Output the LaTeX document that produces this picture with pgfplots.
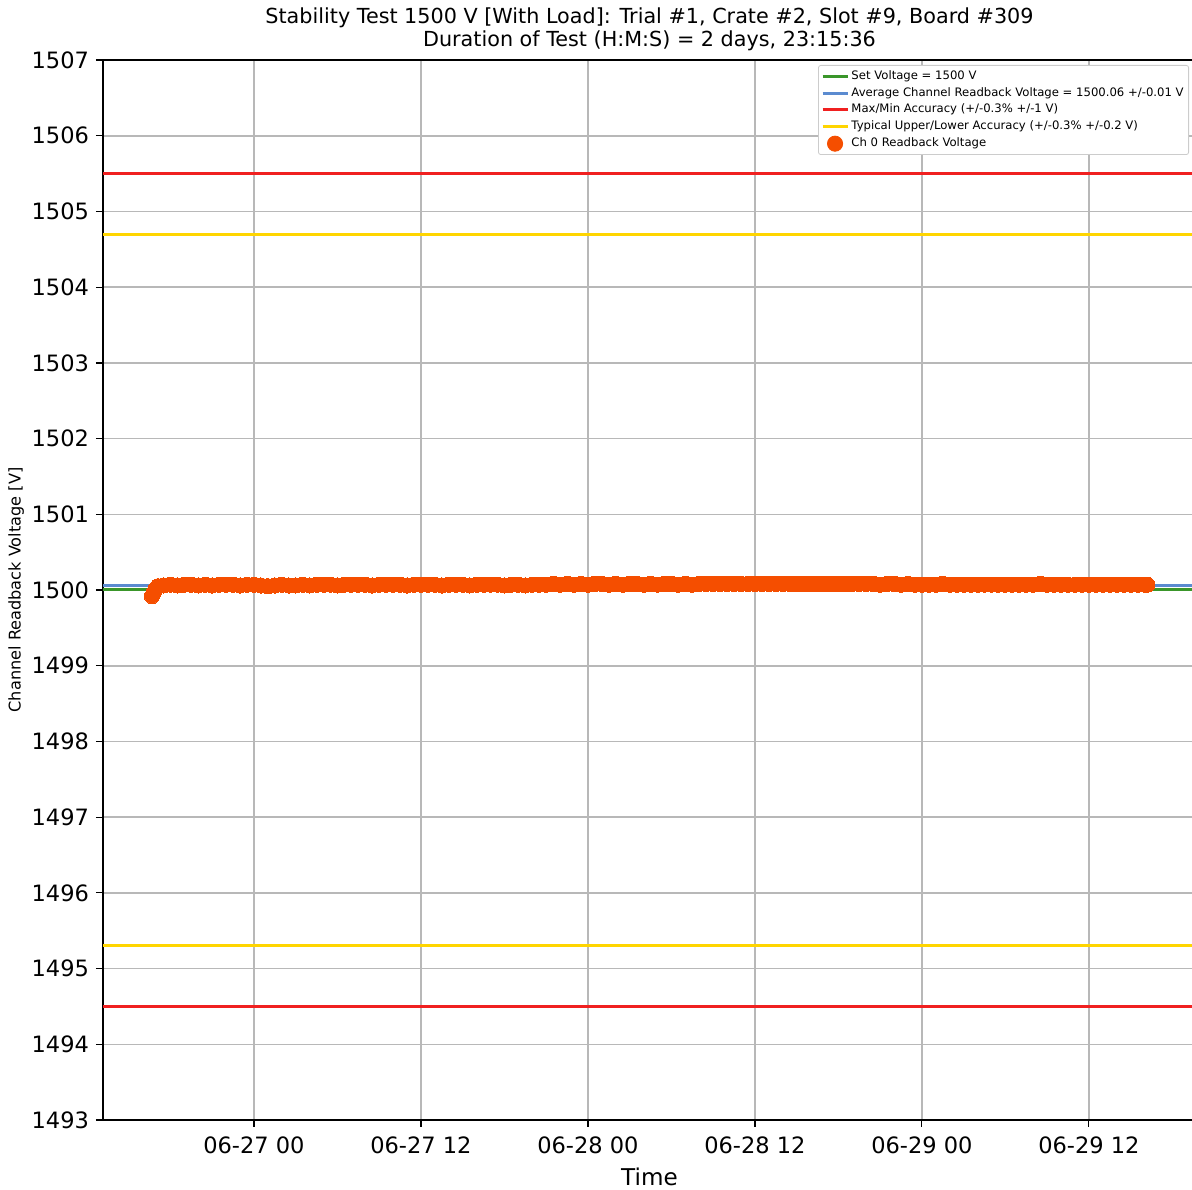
\documentclass[border=0pt]{standalone}
\usepackage{fontspec}
\setmainfont{DejaVu Sans}
\usepackage{pgfplots}
\pgfplotsset{compat=1.18}
\definecolor{cgreen}{HTML}{3A962A}
\definecolor{cblue}{HTML}{5B8BD0}
\definecolor{cred}{HTML}{F02020}
\definecolor{cyellow}{HTML}{FFD500}
\definecolor{corange}{HTML}{F54E00}
\definecolor{cgrid}{HTML}{B8B8B8}
\pgfplotsset{
  mylinelegend/.style={legend image code/.code={\draw[##1] (0bp,0bp) -- (12.5bp,0bp);}},
  mydotlegend/.style={legend image code/.code={\fill[corange] (6.25bp,0bp) circle (3.8bp);}},
}
\begin{document}
\begin{tikzpicture}
\useasboundingbox (0,0) rectangle (596bp,595bp);
\begin{axis}[
  at={(51.5bp,35bp)}, anchor=south west,
  scale only axis, width=546.5bp, height=530bp,
  xmin=-10.85, xmax=67.7, ymin=1493, ymax=1507,
  ytick={1493,1494,...,1507},
  xtick={0,12,24,36,48,60},
  xticklabels={06-27 00,06-27 12,06-28 00,06-28 12,06-29 00,06-29 12},
  /pgf/number format/assume math mode=true,
  /pgf/number format/1000 sep={},
  tick label style={font=\fontsize{11.3}{13}\selectfont},
  xticklabel style={yshift=-1.5bp},
  tick align=outside, tick pos=left,
  major tick length=3.5bp,
  every tick/.style={black, line width=0.6bp},
  axis line style={line width=0.7bp},
  grid=major,
  major grid style={cgrid, line width=0.8bp},
  xlabel={Time},
  xlabel style={font=\fontsize{11.6}{13}\selectfont, yshift=0bp},
  ylabel={Channel Readback Voltage [V]},
  ylabel style={font=\fontsize{8.1}{9.5}\selectfont, yshift=-3bp},
  title={Stability Test 1500 V [With Load]: Trial \#1, Crate \#2, Slot \#9, Board \#309\\Duration of Test (H:M:S) = 2 days, 23:15:36},
  title style={align=center, font=\fontsize{10.4}{11.5}\selectfont, yshift=-5bp},
  legend cell align=left,
  legend style={at={(0.9936,0.9953)}, anchor=north east, draw=black!20, rounded corners=1.2pt,
    font=\fontsize{5.85}{6.6}\selectfont, row sep=0.1bp, inner sep=1.3bp,
    nodes={inner sep=1.2bp}},
]
\addplot[cgreen, line width=1.5bp, mylinelegend] coordinates {(-10.85,1500) (67.7,1500)};
\addlegendentry{Set Voltage = 1500 V}
\addplot[cblue, line width=1.5bp, mylinelegend] coordinates {(-10.85,1500.06) (67.7,1500.06)};
\addlegendentry{Average Channel Readback Voltage = 1500.06 +/-0.01 V}
\addplot[cred, line width=1.5bp, mylinelegend] coordinates {(-10.85,1505.5) (67.7,1505.5)};
\addlegendentry{Max/Min Accuracy (+/-0.3\% +/-1 V)}
\addplot[cred, line width=1.5bp, forget plot] coordinates {(-10.85,1494.5) (67.7,1494.5)};
\addplot[cyellow, line width=1.5bp, mylinelegend] coordinates {(-10.85,1504.7) (67.7,1504.7)};
\addlegendentry{Typical Upper/Lower Accuracy (+/-0.3\% +/-0.2 V)}
\addplot[cyellow, line width=1.5bp, forget plot] coordinates {(-10.85,1495.3) (67.7,1495.3)};
\addplot[only marks, mark=*, mark size=3.8bp, color=corange, mark options={draw=corange, fill=corange, line width=0pt},
  mydotlegend] coordinates {
(-7.33,1499.92) (-7.2,1499.97) (-7.05,1500.02) (-6.9,1500.05)
(-6.5,1500.06) (-6.0,1500.07) (-5.5,1500.06) (-5.0,1500.07) (-4.5,1500.07) (-4.0,1500.06) (-3.5,1500.07) (-3.0,1500.06) (-2.5,1500.07) (-2.0,1500.07)
(-1.5,1500.07) (-1.0,1500.06) (-0.5,1500.07) (0.0,1500.07) (0.5,1500.06) (1.0,1500.05) (1.5,1500.06) (2.0,1500.07) (2.5,1500.06) (3.0,1500.06)
(3.5,1500.07) (4.0,1500.06) (4.5,1500.07) (5.0,1500.07) (5.5,1500.07) (6.0,1500.06) (6.5,1500.07) (7.0,1500.07) (7.5,1500.07) (8.0,1500.07)
(8.5,1500.06) (9.0,1500.07) (9.5,1500.07) (10.0,1500.07) (10.5,1500.07) (11.0,1500.06) (11.5,1500.07) (12.0,1500.07) (12.5,1500.07) (13.0,1500.07)
(13.5,1500.06) (14.0,1500.07) (14.5,1500.07) (15.0,1500.07) (15.5,1500.06) (16.0,1500.07) (16.5,1500.07) (17.0,1500.07) (17.5,1500.07) (18.0,1500.06)
(18.5,1500.07) (19.0,1500.07) (19.5,1500.06) (20.0,1500.07) (20.5,1500.07) (21.0,1500.07) (21.5,1500.08) (22.0,1500.07) (22.5,1500.08) (23.0,1500.07)
(23.5,1500.08) (24.0,1500.07) (24.5,1500.08) (25.0,1500.08) (25.5,1500.07) (26.0,1500.08) (26.5,1500.07) (27.0,1500.08) (27.5,1500.08) (28.0,1500.07)
(28.5,1500.08) (29.0,1500.07) (29.5,1500.08) (30.0,1500.08) (30.5,1500.07) (31.0,1500.08) (31.5,1500.07) (32.0,1500.08) (32.5,1500.08) (33.0,1500.08)
(33.5,1500.08) (34.0,1500.08) (34.5,1500.08) (35.0,1500.08) (35.5,1500.08) (36.0,1500.08) (36.5,1500.08) (37.0,1500.08) (37.5,1500.08) (38.0,1500.08)
(38.5,1500.08) (39.0,1500.08) (39.5,1500.08) (40.0,1500.08) (40.5,1500.08) (41.0,1500.08) (41.5,1500.08) (42.0,1500.08) (42.5,1500.08) (43.0,1500.08)
(43.5,1500.08) (44.0,1500.08) (44.5,1500.08) (45.0,1500.07) (45.5,1500.08) (46.0,1500.08) (46.5,1500.07) (47.0,1500.08) (47.5,1500.07) (48.0,1500.07)
(48.5,1500.07) (49.0,1500.07) (49.5,1500.08) (50.0,1500.07) (50.5,1500.07) (51.0,1500.07) (51.5,1500.07) (52.0,1500.07) (52.5,1500.07) (53.0,1500.07)
(53.5,1500.07) (54.0,1500.07) (54.5,1500.07) (55.0,1500.07) (55.5,1500.07) (56.0,1500.07) (56.5,1500.08) (57.0,1500.07) (57.5,1500.07) (58.0,1500.07)
(58.5,1500.07) (59.0,1500.07) (59.5,1500.07) (60.0,1500.07) (60.5,1500.07) (61.0,1500.07) (61.5,1500.07) (62.0,1500.07) (62.5,1500.07) (63.0,1500.07)
(63.5,1500.07) (64.0,1500.07) (64.2,1500.07)
};
\addlegendentry{Ch 0 Readback Voltage}
\end{axis}
\end{tikzpicture}
\end{document}
